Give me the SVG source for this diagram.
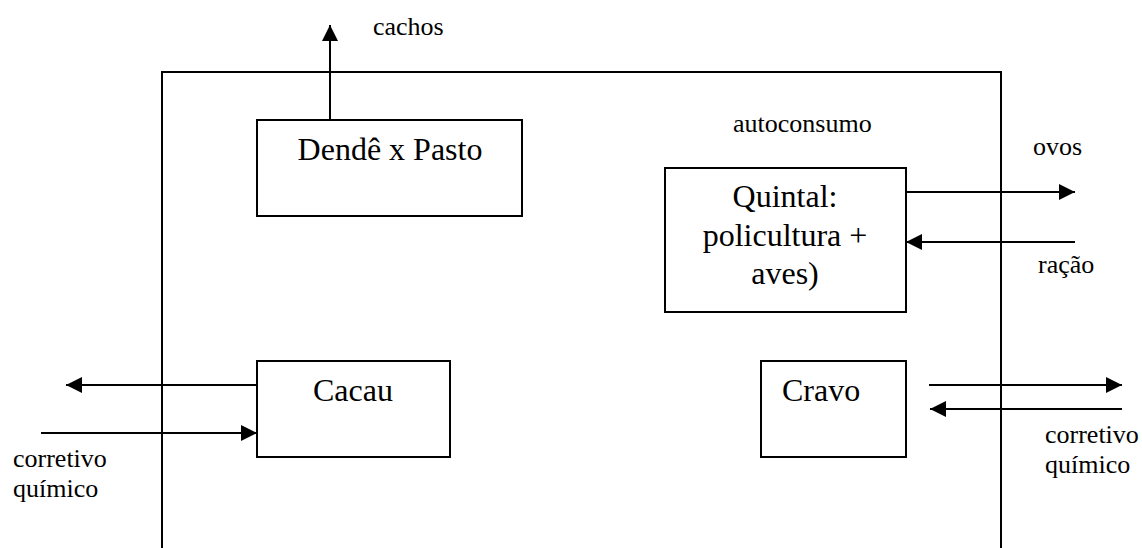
<svg xmlns="http://www.w3.org/2000/svg" width="1142" height="548" viewBox="0 0 1142 548">
  <style>
    .frame { fill: none; stroke: #000; stroke-width: 2; }
    .box { fill: #fff; stroke: #000; stroke-width: 2; }
    .flow { stroke: #000; stroke-width: 2; fill: none; marker-end: url(#head); }
    text { font-family: 'Liberation Serif', 'Times New Roman', serif; fill: #000; }
    .big { font-size: 32px; }
    .small { font-size: 26px; }
  </style>
  <defs>
    <marker id="head" markerUnits="userSpaceOnUse" markerWidth="16" markerHeight="16" viewBox="0 0 16 16" refX="16" refY="8" orient="auto">
      <path d="M0,0 L16,8 L0,16 Z" fill="#000"/>
    </marker>
  </defs>

  <rect width="1142" height="548" fill="#fff"/>

  <!-- property boundary, open at the bottom -->
  <path class="frame" d="M162,548 V72 H1001 V548"/>

  <g id="connectors">
    <line class="flow" x1="330" y1="120" x2="330" y2="25"/>
    <line class="flow" x1="906" y1="192" x2="1075" y2="192"/>
    <line class="flow" x1="1075" y1="242" x2="906" y2="242"/>
    <line class="flow" x1="257" y1="385" x2="66" y2="385"/>
    <line class="flow" x1="41" y1="433" x2="257" y2="433"/>
    <line class="flow" x1="929" y1="385" x2="1122" y2="385"/>
    <line class="flow" x1="1122" y1="409" x2="930" y2="409"/>
  </g>

  <g id="dende">
    <rect class="box" x="257" y="120" width="265" height="96"/>
    <text class="big" x="390" y="160" text-anchor="middle">Dendê x Pasto</text>
  </g>

  <g id="quintal">
    <rect class="box" x="665" y="168" width="241" height="144"/>
    <text class="big" x="785" y="207" text-anchor="middle">Quintal:</text>
    <text class="big" x="785" y="246" text-anchor="middle">policultura +</text>
    <text class="big" x="785" y="284" text-anchor="middle">aves)</text>
  </g>

  <g id="cacau">
    <rect class="box" x="257" y="361" width="193" height="96"/>
    <text class="big" x="313" y="401">Cacau</text>
  </g>

  <g id="cravo">
    <rect class="box" x="761" y="361" width="145" height="96"/>
    <text class="big" x="782" y="401">Cravo</text>
  </g>

  <g id="labels">
    <text class="small" x="373" y="35">cachos</text>
    <text class="small" x="733" y="132">autoconsumo</text>
    <text class="small" x="1033" y="155">ovos</text>
    <text class="small" x="1038" y="273">ração</text>
    <text class="small" x="13" y="467">corretivo</text>
    <text class="small" x="13" y="497">químico</text>
    <text class="small" x="1045" y="443">corretivo</text>
    <text class="small" x="1045" y="473">químico</text>
  </g>
</svg>
